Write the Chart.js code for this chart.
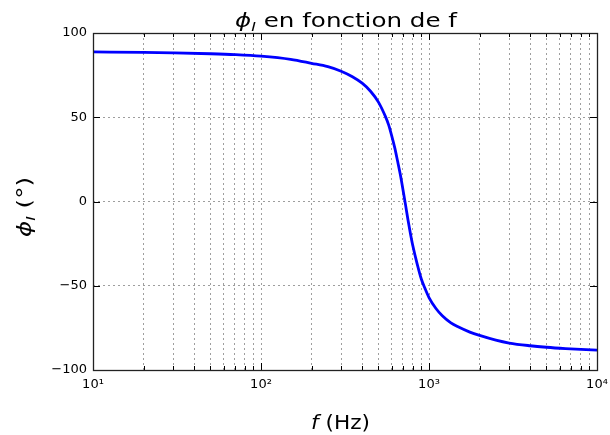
<!DOCTYPE html>
<html><head><meta charset="utf-8">
<script src="https://cdn.jsdelivr.net/npm/chart.js@4/dist/chart.umd.min.js"></script>
<style>html,body{margin:0;padding:0;background:#fff}#wrap{width:610px;height:435px}</style>
</head><body><div id="wrap"><canvas id="c" width="610" height="435"></canvas></div>
<script>
// ---- data ----
const frequencies = [10, 20, 30, 50, 70, 100, 150, 200, 250, 300, 350, 400, 450, 500, 550, 575, 600, 625, 650, 675, 700, 725, 750, 775, 800, 850, 900, 950, 1000, 1100, 1200, 1350, 1500, 1750, 2000, 2500, 3000, 4000, 5000, 6500, 8000, 10000];
const phaseDeg = [88.8, 88.5, 88.2, 87.7, 87.2, 86.3, 84.4, 82, 80, 77.3, 74, 70.2, 65.3, 59, 50.5, 45.5, 39, 32, 24, 16, 7, -2, -11, -19, -26, -37, -46, -52, -57, -63.5, -67.8, -72, -74.5, -77.5, -79.5, -82.3, -84, -85.6, -86.5, -87.3, -87.8, -88.2];
const xMajorTicks = [10, 100, 1000, 10000];
const xTickLabels = ['10\u00B9', '10\u00B2', '10\u00B3', '10\u2074'];
const yTicks = [-100, -50, 0, 50, 100];
const yTickLabels = ['\u2212100', '\u221250', '0', '50', '100'];
const titleSymbol = '\u03D5', titleSub = 'I', titleRest = ' en fonction de f';
const xLabelVar = 'f', xLabelUnit = ' (Hz)';
const yLabelUnit = ' (\u00B0)';

// minor tick positions (2..9 per decade)
const xMinorTicks = [];
for (let i = 0; i < xMajorTicks.length - 1; i++) for (let k = 2; k <= 9; k++) xMinorTicks.push(xMajorTicks[i] * k);
const xAllTicks = xMajorTicks.concat(xMinorTicks).sort((a, b) => a - b);

const FONT = 'DejaVu Sans';

// draw a run of [text, font, dy] pieces, fitted horizontally to a target width, starting at x0
function drawRun(ctx, pieces, x0, y0, targetW) {
  let w = 0;
  const ws = pieces.map(p => { ctx.font = p[1]; const m = ctx.measureText(p[0]).width; w += m; return m; });
  const s = targetW / w;
  ctx.save();
  ctx.translate(x0, y0);
  ctx.scale(s, 1);
  let x = 0;
  pieces.forEach((p, i) => { ctx.font = p[1]; ctx.fillText(p[0], x, p[2]); x += ws[i]; });
  ctx.restore();
}

const decor = {
  id: 'decor',
  afterDraw(chart) {
    const {ctx, chartArea: a, scales} = chart;
    const x = scales.x, y = scales.y;
    ctx.save();
    ctx.strokeStyle = '#000';
    ctx.lineWidth = 1;
    // inward ticks
    ctx.beginPath();
    xAllTicks.forEach(v => {
      const px = Math.round(x.getPixelForValue(v)) + 0.5;
      const len = xMajorTicks.includes(v) ? 7 : 4;
      ctx.moveTo(px, a.bottom); ctx.lineTo(px, a.bottom - len);
      ctx.moveTo(px, a.top); ctx.lineTo(px, a.top + len);
    });
    yTicks.forEach(v => {
      const py = Math.round(y.getPixelForValue(v)) + 0.5;
      ctx.moveTo(a.left, py); ctx.lineTo(a.left + 7, py);
      ctx.moveTo(a.right, py); ctx.lineTo(a.right - 7, py);
    });
    ctx.stroke();
    // box
    ctx.strokeStyle = '#222';
    ctx.lineWidth = 1.3;
    ctx.strokeRect(Math.round(a.left) + 0.5, Math.round(a.top) + 0.5, Math.round(a.right - a.left), Math.round(a.bottom - a.top));

    ctx.fillStyle = '#000';
    ctx.textBaseline = 'alphabetic';
    ctx.textAlign = 'left';
    const f = (sz, it) => (it ? 'italic ' : '') + sz + 'px "' + FONT + '"';
    // title
    drawRun(ctx, [[titleSymbol, f(20, true), 0], [titleSub, f(13, true), 4], [titleRest, f(20), 0]], 235, 27, 222);
    // x label
    drawRun(ctx, [[xLabelVar, f(19, true), 0], [xLabelUnit, f(19), 0]], 311, 429, 59);
    // y label (rotated)
    ctx.save();
    ctx.translate(31, 237);
    ctx.rotate(-Math.PI / 2);
    drawRun(ctx, [[titleSymbol, f(19, true), 0], [titleSub, f(12, true), 4], [yLabelUnit, f(19), 0]], 0, 0, 60);
    ctx.restore();
    ctx.restore();
  }
};

new Chart(document.getElementById('c'), {
  type: 'line',
  data: {
    labels: frequencies,
    datasets: [{
      data: frequencies.map((f, i) => ({x: f, y: phaseDeg[i]})),
      borderColor: '#0000ff',
      borderWidth: 2.8,
      pointRadius: 0,
      fill: false,
      cubicInterpolationMode: 'monotone'
    }]
  },
  options: {
    responsive: false,
    animation: false,
    devicePixelRatio: 1,
    layout: {padding: {top: 33, right: 13, left: 0, bottom: 0}},
    plugins: {legend: {display: false}, title: {display: false}, tooltip: {enabled: false}},
    scales: {
      x: {
        type: 'logarithmic', min: 10, max: 10000,
        afterBuildTicks: s => { s.ticks = xAllTicks.map(v => ({value: v, major: xMajorTicks.includes(v)})); },
        afterFit: s => { s.height = 65; s.paddingLeft = 0; s.paddingRight = 0; },
        ticks: {
          autoSkip: false, maxRotation: 0, minRotation: 0, padding: 7,
          color: '#000', font: {family: FONT, size: 13},
          callback: v => { const i = xMajorTicks.indexOf(v); return i >= 0 ? xTickLabels[i] : ''; }
        },
        grid: {color: 'rgba(0,0,0,0.38)', lineWidth: 1, drawTicks: false},
        border: {display: false, dash: [2, 3]}
      },
      y: {
        type: 'linear', min: -100, max: 100,
        afterBuildTicks: s => { s.ticks = yTicks.map(v => ({value: v})); },
        afterFit: s => { s.width = 93; s.paddingTop = 0; s.paddingBottom = 0; },
        ticks: {
          padding: 6, color: '#000', font: {family: FONT, size: 13},
          callback: v => yTickLabels[yTicks.indexOf(v)]
        },
        grid: {color: 'rgba(0,0,0,0.38)', lineWidth: 1, drawTicks: false},
        border: {display: false, dash: [2, 3]}
      }
    }
  },
  plugins: [decor]
});
</script>
</body></html>
